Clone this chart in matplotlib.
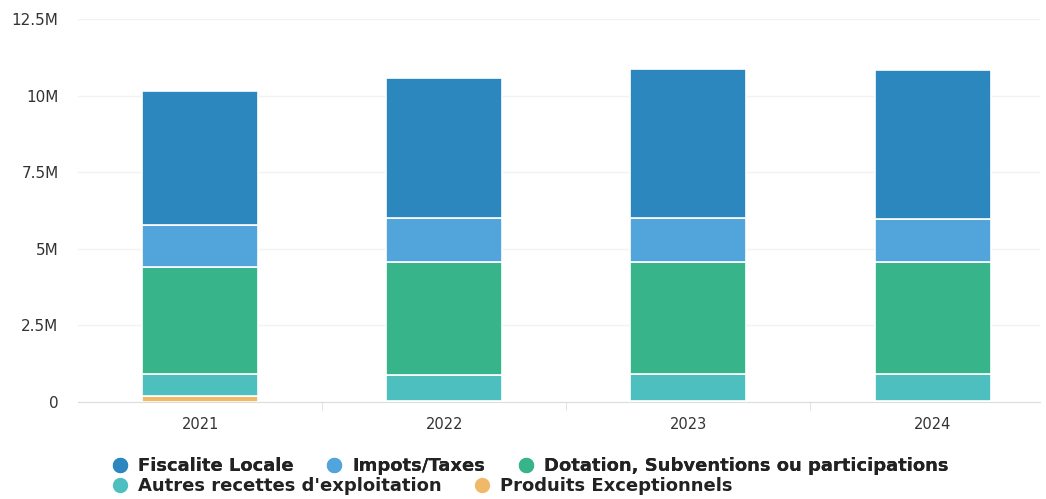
import matplotlib
matplotlib.use("Agg")
import matplotlib.pyplot as plt
from matplotlib.lines import Line2D
import numpy as np

years = ["2021", "2022", "2023", "2024"]
fiscalite = [4.37e6, 4.55e6, 4.87e6, 4.87e6]
impots = [1.37e6, 1.43e6, 1.43e6, 1.40e6]
dotation = [3.50e6, 3.70e6, 3.66e6, 3.66e6]
autres = [0.72e6, 0.85e6, 0.90e6, 0.90e6]
produits = [0.20e6, 0.03e6, 0.02e6, 0.02e6]

names = ["Fiscalite Locale", "Impots/Taxes", "Dotation, Subventions ou participations",
         "Autres recettes d'exploitation", "Produits Exceptionnels"]
colors = ["#2b87be", "#52a5da", "#37b48a", "#4dbfbf", "#f0b96a"]

fig = plt.figure(figsize=(10.46, 4.99), dpi=100)
ax = fig.add_axes([78 / 1046, 97 / 499, 962 / 1046, 383 / 499])

x = np.arange(len(years))
series = [produits, autres, dotation, impots, fiscalite]
scol = [colors[4], colors[3], colors[2], colors[1], colors[0]]
bottom = np.zeros(len(years))
for vals, c in zip(series, scol):
    ax.bar(x, vals, width=0.475, bottom=bottom, color=c, edgecolor="white", linewidth=1.2, zorder=3)
    bottom += np.array(vals)

ax.set_xlim(-0.5, 3.44)
ax.set_ylim(0, 12.5e6)
ax.set_yticks([0, 2.5e6, 5e6, 7.5e6, 10e6, 12.5e6])
ax.set_yticklabels(["0", "2.5M", "5M", "7.5M", "10M", "12.5M"])
ax.set_xticks(x)
ax.set_xticklabels(years)
ax.set_xticks([0.5, 1.5, 2.5], minor=True)
ax.tick_params(axis="y", length=0, pad=14, labelsize=11, labelcolor="#333333")
ax.tick_params(axis="x", which="major", length=0, pad=11, labelsize=10.5, labelcolor="#333333")
ax.tick_params(axis="x", which="minor", length=6, color="#dddddd")
ax.grid(axis="y", color="#f2f2f2", linewidth=1, zorder=0)
for s in ["top", "right", "left"]:
    ax.spines[s].set_visible(False)
ax.spines["bottom"].set_color("#dddddd")

handles = [Line2D([], [], marker="o", linestyle="", markersize=10, color=c) for c in colors]
font = {"weight": "bold", "size": 13}
leg1 = fig.legend(handles[:3], names[:3], loc="center left", bbox_to_anchor=(110 / 1046, 0.066),
                  ncol=3, frameon=False, prop=font, handletextpad=0.45, columnspacing=1.7,
                  handlelength=1.1, borderpad=0, borderaxespad=0, labelcolor="#222222")
fig.add_artist(leg1)
fig.legend(handles[3:], names[3:], loc="center left", bbox_to_anchor=(110 / 1046, 0.026),
           ncol=2, frameon=False, prop=font, handletextpad=0.45, columnspacing=1.7,
           handlelength=1.1, borderpad=0, borderaxespad=0, labelcolor="#222222")

fig.savefig("out.png", dpi=100)
